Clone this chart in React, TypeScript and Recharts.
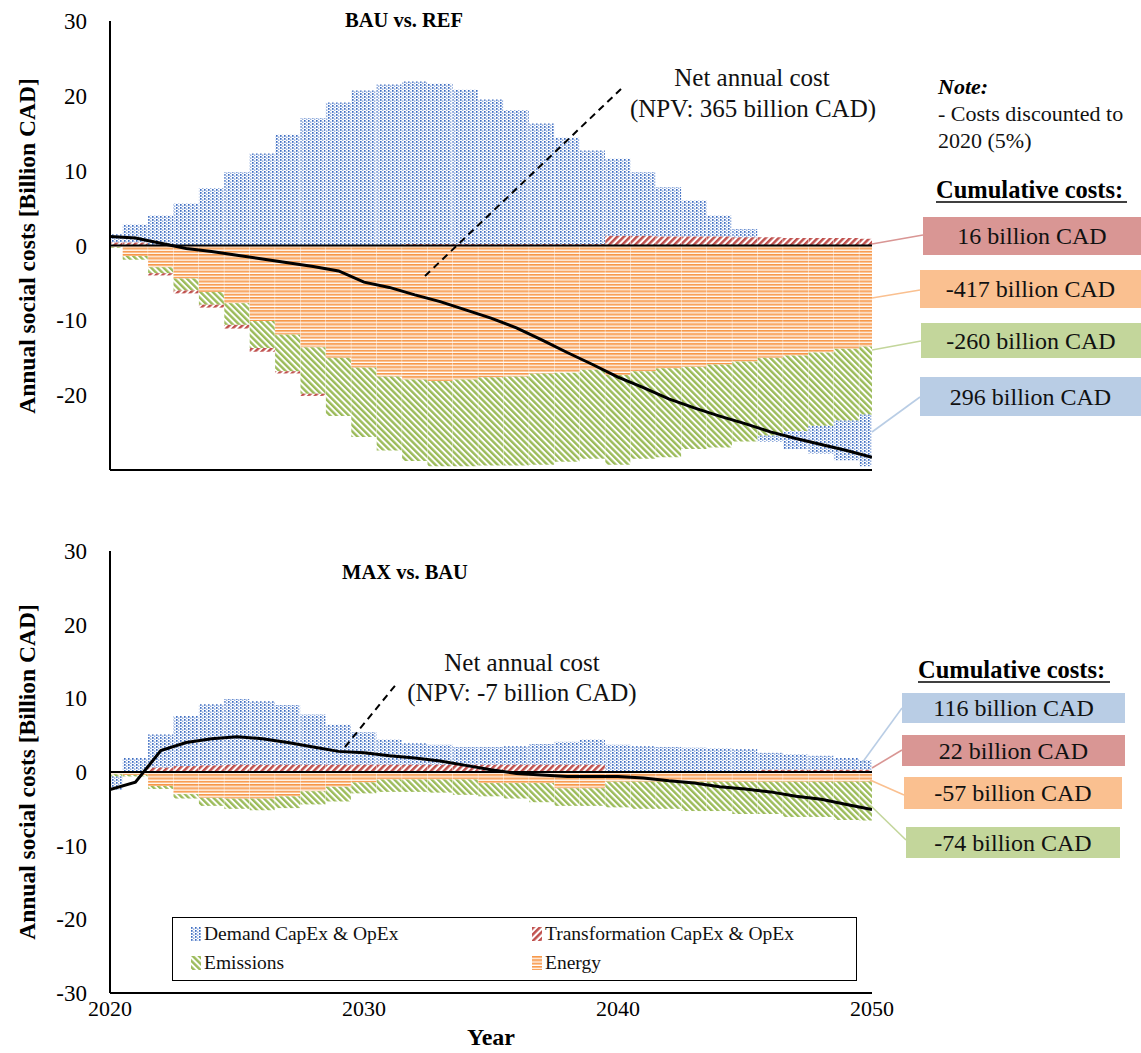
import { Bar, ComposedChart, Line, ReferenceLine, XAxis, YAxis } from "recharts"

const years = [
  2020, 2021, 2022, 2023, 2024, 2025, 2026, 2027, 2028, 2029, 2030, 2031, 2032, 2033, 2034, 2035,
  2036, 2037, 2038, 2039, 2040, 2041, 2042, 2043, 2044, 2045, 2046, 2047, 2048, 2049, 2050,
]
const yTicks = [-30, -20, -10, 0, 10, 20, 30]
const xTicks = [2020, 2030, 2040, 2050]

// BAU vs. REF
const demandTop = [1.1, 2.4, 4.0, 5.6, 7.7, 9.8, 12.3, 14.8, 17.0, 19.1, 20.7, 21.4, 21.7, 21.4, 20.6, 19.3, 17.9, 16.1, 14.2, 12.5, 10.3, 8.5, 6.6, 4.8, 2.8, 1.1, -0.8, -2.4, -3.7, -5.3, -6.9]
const transTop = [0.4, 0.4, -0.3, -0.4, -0.4, -0.5, -0.5, -0.3, -0.3, 0, 0, 0.1, 0.2, 0.2, 0.2, 0.2, 0.2, 0.2, 0.2, 0.2, 1.3, 1.3, 1.2, 1.2, 1.2, 1.1, 1.1, 1.0, 1.0, 1.0, 0.9]
const emissionsTop = [-0.1, -0.5, -0.8, -1.6, -1.7, -2.9, -3.6, -4.9, -6.2, -7.8, -9.3, -9.9, -10.9, -11.4, -11.6, -11.8, -11.9, -12.2, -11.9, -11.9, -12.0, -11.7, -11.9, -11.0, -11.1, -10.7, -10.4, -10.1, -9.8, -9.6, -9.1]
const energyTop = [-0.2, -1.4, -2.9, -4.4, -6.2, -7.7, -10.1, -11.9, -13.6, -15.0, -16.3, -17.5, -17.9, -18.1, -17.9, -17.6, -17.5, -17.1, -17.0, -16.6, -17.3, -16.8, -16.4, -16.2, -15.9, -15.5, -15.0, -14.7, -14.3, -13.8, -13.5]
const netTop = [1.2, 1.0, 0.3, -0.4, -0.8, -1.3, -1.8, -2.3, -2.8, -3.4, -4.9, -5.6, -6.6, -7.5, -8.6, -9.7, -11.0, -12.6, -14.3, -15.9, -17.6, -19.0, -20.5, -21.7, -22.8, -23.8, -24.9, -25.8, -26.6, -27.4, -28.3]

// MAX vs. BAU
const demandBot = [-1.8, 1.9, 4.5, 6.8, 8.3, 8.9, 8.6, 8.1, 6.8, 5.4, 4.4, 3.4, 2.9, 2.7, 2.4, 2.4, 2.5, 2.8, 3.1, 3.4, 3.6, 3.4, 3.3, 3.2, 3.1, 3.0, 2.3, 2.1, 1.9, 1.6, 1.3]
const transBot = [0, 0, 0.6, 0.8, 0.9, 1.0, 1.0, 1.0, 1.0, 1.0, 1.0, 1.0, 1.0, 1.0, 1.0, 1.0, 1.0, 1.0, 1.0, 1.0, 0.1, 0.1, 0.1, 0.1, 0.1, 0.1, 0.3, 0.3, 0.3, 0.3, 0.3]
const emissionsBot = [-0.3, -0.2, -0.4, -0.6, -1.1, -1.4, -1.6, -1.6, -1.8, -2.0, -1.5, -1.7, -1.7, -1.8, -2.1, -1.8, -2.1, -2.6, -2.4, -2.4, -3.5, -3.7, -3.7, -4.0, -4.0, -4.4, -4.4, -4.8, -4.8, -5.2, -5.3]
const energyBot = [-0.3, -0.4, -1.9, -3.0, -3.5, -3.6, -3.6, -3.3, -2.6, -2.0, -1.4, -1.0, -1.0, -1.0, -1.0, -1.5, -1.5, -1.5, -2.2, -2.2, -1.3, -1.3, -1.3, -1.3, -1.3, -1.3, -1.3, -1.3, -1.3, -1.3, -1.3]
const netBot = [-2.4, -1.4, 2.9, 4.0, 4.5, 4.8, 4.5, 4.0, 3.4, 2.8, 2.6, 2.2, 1.9, 1.5, 0.9, 0.3, -0.2, -0.4, -0.6, -0.6, -0.6, -0.8, -1.2, -1.5, -2.0, -2.3, -2.7, -3.3, -3.7, -4.4, -5.1]

const topRows = years.map((year, i) => ({
  year,
  energy: energyTop[i],
  emissions: emissionsTop[i],
  trans: transTop[i],
  demand: demandTop[i],
  net: netTop[i],
}))
const botRows = years.map((year, i) => ({
  year,
  energy: energyBot[i],
  emissions: emissionsBot[i],
  trans: transBot[i],
  demand: demandBot[i],
  net: netBot[i],
}))

const FONT = '"Liberation Serif", "Times New Roman", serif'

function patternDefs(p: string) {
  return (
    <defs>
      <pattern id={`${p}-demand`} width={4} height={3} patternUnits="userSpaceOnUse">
        <rect x={0} y={0} width={1.6} height={1.8} fill="#3F6EC2" />
        <rect x={2} y={1.5} width={1.4} height={1.3} fill="#7F9FD8" />
      </pattern>
      <pattern id={`${p}-trans`} width={4.6} height={4.6} patternUnits="userSpaceOnUse" patternTransform="rotate(45)">
        <rect width={2.5} height={4.6} fill="#C0504D" />
      </pattern>
      <pattern id={`${p}-emis`} width={4.4} height={4.4} patternUnits="userSpaceOnUse" patternTransform="rotate(-45)">
        <rect width={2.4} height={4.4} fill="#9BBB59" />
      </pattern>
      <pattern id={`${p}-energy`} width={6} height={3.3} patternUnits="userSpaceOnUse">
        <rect width={6} height={1.5} fill="#F79646" />
        <rect y={1.5} width={6} height={0.8} fill="#FAC090" />
      </pattern>
    </defs>
  )
}

function Panel({ rows, id, showTicks, height }: { rows: any[]; id: string; showTicks: boolean; height: number }) {
  return (
    <ComposedChart
      width={900}
      height={height}
      data={rows}
      margin={{ top: 21, right: 28, bottom: showTicks ? 10 : 9, left: 0 }}
      stackOffset="sign"
      barCategoryGap={0}
      barGap={0}
    >
      {patternDefs(id)}
      <XAxis
        dataKey="year"
        type="number"
        domain={[2020, 2050]}
        allowDataOverflow
        ticks={xTicks}
        height={showTicks ? 50 : 1}
        tick={showTicks ? { fill: "#000", fontSize: 22, fontFamily: FONT } : false}
        tickLine={false}
        tickSize={0}
        tickMargin={7}
        axisLine={{ stroke: "#000", strokeWidth: 2 }}
      />
      <YAxis
        type="number"
        domain={[-30, 30]}
        ticks={yTicks}
        width={110}
        tick={{ fill: "#000", fontSize: 23, fontFamily: FONT }}
        tickLine={false}
        tickSize={0}
        tickMargin={23}
        axisLine={{ stroke: "#000", strokeWidth: 2 }}
      />
      <Bar dataKey="energy" stackId="a" fill={`url(#${id}-energy)`} isAnimationActive={false} />
      <Bar dataKey="emissions" stackId="a" fill={`url(#${id}-emis)`} isAnimationActive={false} />
      <Bar dataKey="trans" stackId="a" fill={`url(#${id}-trans)`} isAnimationActive={false} />
      <Bar dataKey="demand" stackId="a" fill={`url(#${id}-demand)`} isAnimationActive={false} />
      <ReferenceLine y={0} stroke="#000" strokeWidth={2} />
      <Line dataKey="net" type="linear" stroke="#000" strokeWidth={3} dot={false} isAnimationActive={false} />
    </ComposedChart>
  )
}

function Box({ x, y, w, h, fill, text, line }: { x: number; y: number; w: number; h: number; fill: string; text: string; line: number[] }) {
  return (
    <g>
      <line x1={line[0]} y1={line[1]} x2={line[2]} y2={line[3]} stroke={fill} strokeWidth={1.6} />
      <rect x={x} y={y} width={w} height={h} fill={fill} />
      <text x={x + w / 2} y={y + h / 2 + 8} textAnchor="middle" fontSize={24} fill="#111">
        {text}
      </text>
    </g>
  )
}

const legendItems = [
  { label: "Demand CapEx & OpEx", key: "demand", left: 190, top: 0 },
  { label: "Transformation CapEx & OpEx", key: "trans", left: 531, top: 0 },
  { label: "Emissions", key: "emis", left: 190, top: 29 },
  { label: "Energy", key: "energy", left: 531, top: 29 },
]

export default function App() {
  return (
    <div style={{ position: "absolute", left: 0, top: 0, width: 1141, height: 1053, background: "#fff", fontFamily: FONT }}>
      <div style={{ position: "absolute", left: 0, top: 0 }}>
        <Panel rows={topRows} id="t" showTicks={false} height={480} />
      </div>
      <div style={{ position: "absolute", left: 0, top: 530 }}>
        <Panel rows={botRows} id="b" showTicks={true} height={523} />
      </div>

      <svg width={1141} height={1053} style={{ position: "absolute", left: 0, top: 0, pointerEvents: "none" }} fontFamily={FONT}>
        {/* axis titles */}
        <text transform="translate(35,246) rotate(-90)" textAnchor="middle" fontSize={23.5} fontWeight="bold" fill="#000">
          Annual social costs [Billion CAD]
        </text>
        <text transform="translate(35,772) rotate(-90)" textAnchor="middle" fontSize={23.5} fontWeight="bold" fill="#000">
          Annual social costs [Billion CAD]
        </text>
        <text x={491} y={1045} textAnchor="middle" fontSize={24} fontWeight="bold" fill="#000">Year</text>

        {/* panel titles */}
        <text x={404} y={27} textAnchor="middle" fontSize={20.5} fontWeight="bold" fill="#000">BAU vs. REF</text>
        <text x={405} y={579} textAnchor="middle" fontSize={20.5} fontWeight="bold" fill="#000">MAX vs. BAU</text>

        {/* net annual cost annotations */}
        <line x1={425} y1={276} x2={621} y2={89} stroke="#000" strokeWidth={2} strokeDasharray="7 5" />
        <text x={752} y={86} textAnchor="middle" fontSize={25} fill="#111">Net annual cost</text>
        <text x={753} y={117} textAnchor="middle" fontSize={25} fill="#111">(NPV: 365 billion CAD)</text>
        <line x1={345} y1={747} x2={398} y2={682} stroke="#000" strokeWidth={2} strokeDasharray="7 5" />
        <text x={522} y={671} textAnchor="middle" fontSize={25} fill="#111">Net annual cost</text>
        <text x={522} y={701} textAnchor="middle" fontSize={25} fill="#111">(NPV: -7 billion CAD)</text>

        {/* note */}
        <text x={938} y={94} fontSize={22} fontWeight="bold" fontStyle="italic" fill="#000">Note:</text>
        <text x={938} y={121} fontSize={22} fill="#111">- Costs discounted to</text>
        <text x={938} y={148} fontSize={22} fill="#111">2020 (5%)</text>

        {/* cumulative costs, top */}
        <text x={936} y={198} fontSize={24.5} fontWeight="bold" fill="#000">Cumulative costs:</text>
        <line x1={936} y1={202} x2={1127} y2={202} stroke="#000" strokeWidth={1.3} />
        <Box x={923} y={217} w={218} h={38} fill="#D99694" text="16 billion CAD" line={[872, 244, 923, 235]} />
        <Box x={920} y={270} w={221} h={38} fill="#FAC090" text="-417 billion CAD" line={[872, 298, 920, 290]} />
        <Box x={921} y={323} w={220} h={35} fill="#C3D69B" text="-260 billion CAD" line={[872, 350, 921, 341]} />
        <Box x={920} y={377} w={221} h={39} fill="#B9CDE5" text="296 billion CAD" line={[872, 432, 920, 397]} />

        {/* cumulative costs, bottom */}
        <text x={918} y={678} fontSize={24.5} fontWeight="bold" fill="#000">Cumulative costs:</text>
        <line x1={918} y1={682} x2={1110} y2={682} stroke="#000" strokeWidth={1.3} />
        <Box x={902} y={693} w={223} h={30} fill="#B9CDE5" text="116 billion CAD" line={[862, 763, 902, 708]} />
        <Box x={902} y={735} w={223} h={31} fill="#D99694" text="22 billion CAD" line={[872, 768, 902, 750]} />
        <Box x={904} y={777} w={218} h={32} fill="#FAC090" text="-57 billion CAD" line={[870, 780, 904, 795]} />
        <Box x={906} y={827} w={214} h={31} fill="#C3D69B" text="-74 billion CAD" line={[870, 805, 906, 840]} />
      </svg>

      {/* legend */}
      <div
        style={{
          position: "absolute",
          left: 172,
          top: 917,
          width: 683,
          height: 62,
          border: "1.5px solid #000",
          background: "#fff",
        }}
      >
        <svg width={0} height={0} style={{ position: "absolute" }}>
          {patternDefs("l")}
        </svg>
        {legendItems.map((it) => (
          <div
            key={it.key}
            style={{ position: "absolute", left: it.left - 172, top: it.top + 3, height: 26, display: "flex", alignItems: "center", fontSize: 19.5, color: "#111" }}
          >
            <svg width={10} height={14} style={{ marginRight: 3 }}>
              <rect width={10} height={14} fill={`url(#l-${it.key})`} />
            </svg>
            {it.label}
          </div>
        ))}
      </div>
    </div>
  )
}
